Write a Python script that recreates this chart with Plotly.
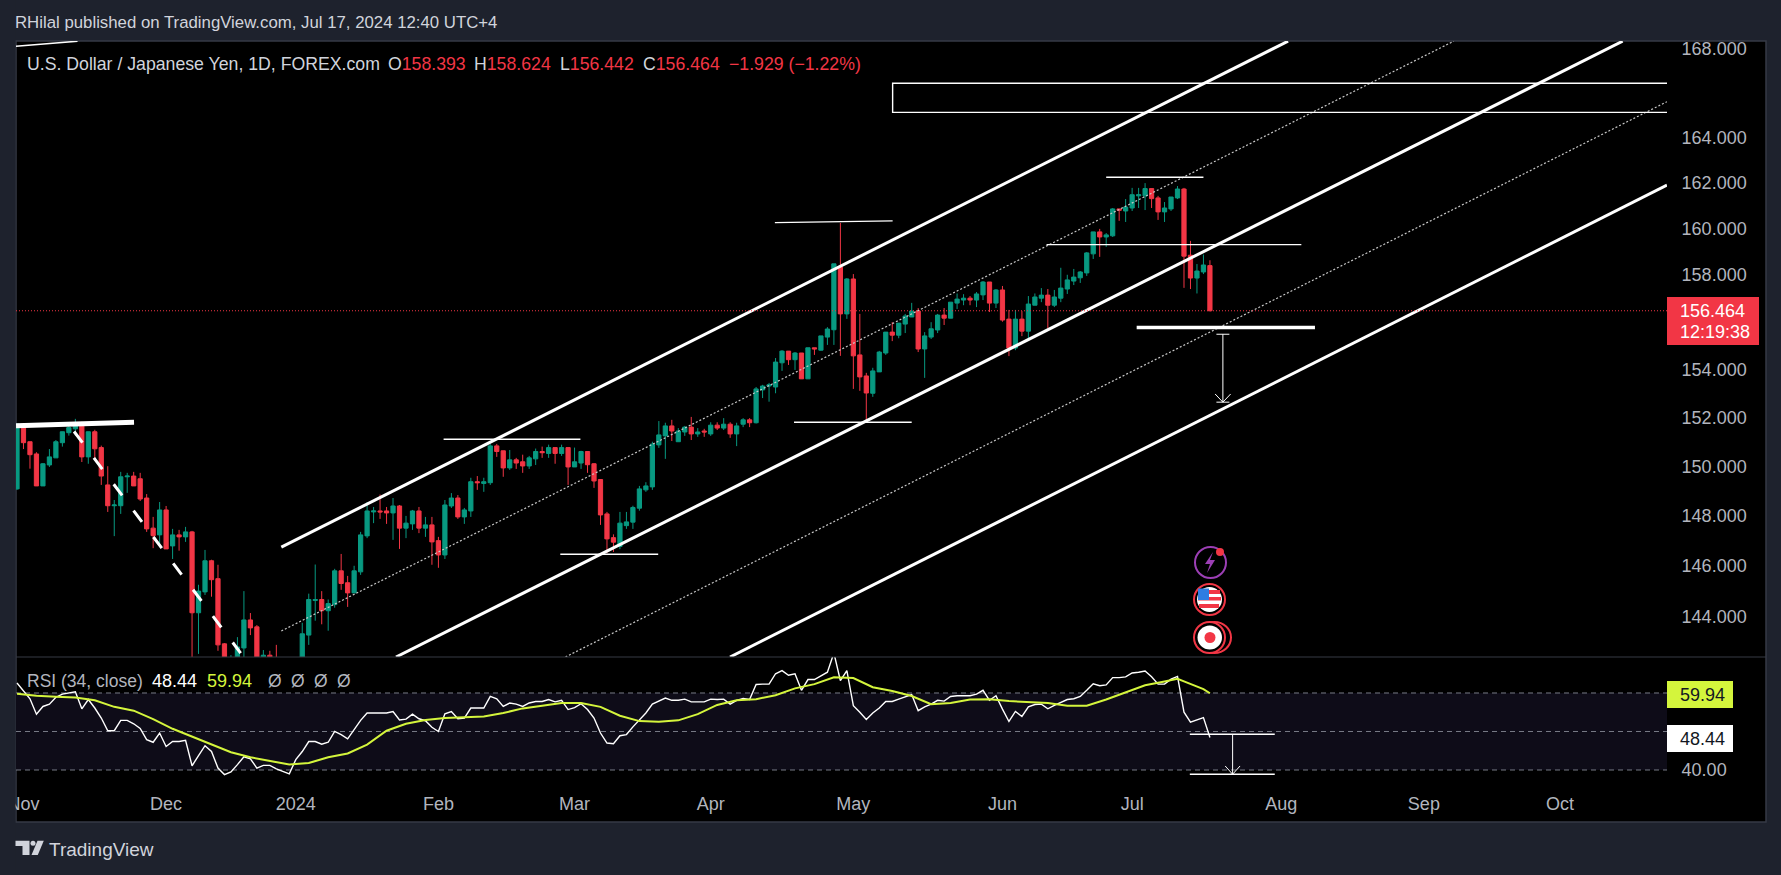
import numpy as np
import plotly.graph_objects as go
from plotly.subplots import make_subplots

W = 1781
H = 875

# daily bars, USDJPY, bar number 0 = 31 Oct 2023, weekdays only
open_px = [149.08,151.73,151.0,150.5,149.2,150.05,150.34,150.96,151.37,151.53,
           151.77,150.38,151.41,150.76,149.24,148.4,148.4,149.57,149.6,149.49,
           148.71,147.5,147.23,148.23,146.79,147.23,147.15,147.35,144.15,144.97,
           146.2,145.49,142.94,142.1,142.2,142.78,143.87,143.6,142.4,142.5,
           142.3,142.1,141.1,141.0,142.3,143.28,144.63,144.67,144.23,144.47,
           145.8,145.33,144.93,145.76,147.19,148.15,148.19,148.19,148.11,148.39,
           147.5,147.67,148.19,147.5,147.63,147.0,146.43,148.39,148.71,147.95,
           148.19,149.37,149.3,149.33,150.83,150.63,149.93,150.26,150.18,150.01,
           150.3,150.6,150.52,150.76,150.52,150.76,149.97,150.13,150.6,150.1,
           149.46,148.07,147.12,146.77,147.6,147.74,148.3,149.04,149.16,150.87,
           151.24,151.65,151.0,151.4,151.6,151.32,151.44,151.32,151.68,151.56,
           151.72,151.32,151.72,151.9,151.78,153.14,153.3,153.26,154.27,154.76,
           154.4,154.68,153.6,154.9,154.8,155.35,155.66,158.33,156.33,157.82,
           154.6,153.72,153.0,153.89,154.68,155.56,155.43,155.9,156.2,156.45,
           154.85,155.35,155.65,156.28,156.15,156.79,156.92,157.0,156.92,157.14,
           157.69,156.79,157.35,156.11,154.89,156.11,155.6,156.7,157.0,157.13,
           156.7,157.0,157.39,157.73,157.87,158.08,158.9,159.85,159.63,159.68,
           160.85,160.76,160.89,161.42,161.42,161.74,161.33,160.72,160.85,161.33,
           161.72,158.84,157.86,158.12,158.393]
high_px = [151.73,151.73,151.0,150.57,150.13,150.7,151.07,151.41,151.65,151.94,
           151.82,151.41,151.49,150.84,150.0,148.63,149.77,149.73,149.77,149.73,
           148.87,147.95,148.55,148.39,147.47,147.43,147.55,147.39,145.25,146.63,
           146.24,146.04,142.97,142.5,143.2,145.0,144.14,143.67,142.7,142.67,
           142.9,142.2,141.6,142.2,143.76,144.9,146.05,145.0,144.67,145.88,
           146.47,145.6,146.0,147.35,148.55,148.35,148.85,148.35,148.71,148.43,
           147.99,148.23,148.35,147.95,147.95,147.15,148.63,148.91,148.83,148.31,
           149.53,149.6,149.53,150.91,150.91,150.63,150.66,150.34,150.47,150.42,
           150.72,150.8,150.88,150.76,150.88,150.76,150.76,150.63,150.6,150.13,
           149.46,148.15,147.25,148.15,148.15,148.4,149.2,149.35,151.0,151.85,
           151.78,151.9,151.56,151.65,152.02,151.56,151.53,151.8,151.8,151.97,
           151.8,151.78,151.97,151.97,153.26,153.35,153.43,154.47,154.8,154.76,
           154.72,154.68,154.9,154.9,155.4,155.77,158.47,160.24,157.86,158.03,
           156.33,153.85,154.06,154.77,155.56,155.98,155.94,156.33,156.8,156.58,
           155.56,155.98,156.33,156.58,156.83,157.2,157.17,157.09,157.26,157.73,
           157.69,157.39,157.52,156.5,156.5,156.45,157.09,157.2,157.43,157.39,
           157.35,158.3,158.0,158.25,158.16,158.98,159.85,159.98,159.8,160.89,
           160.85,161.28,161.77,161.77,161.98,161.74,161.42,161.15,161.37,161.85,
           161.77,159.46,158.46,158.87,158.624]
low_px = [149.04,150.7,149.9,149.2,149.2,149.97,150.34,150.8,151.25,151.25,
          150.17,150.1,150.34,149.24,148.15,147.18,148.07,148.92,149.2,148.59,
          147.35,146.7,146.83,146.67,146.27,146.6,146.95,142.2,142.55,144.85,
          144.78,142.67,141.9,141.7,141.9,142.2,143.28,141.9,141.9,141.9,
          141.8,140.9,140.8,140.9,142.2,142.9,143.84,143.7,143.45,144.35,
          145.05,144.38,144.93,145.64,147.1,147.7,147.87,147.67,147.03,146.67,
          147.1,147.43,147.3,147.15,146.04,145.92,146.27,148.31,147.87,147.67,
          147.95,149.04,148.96,149.24,150.38,149.57,149.85,149.89,149.73,149.89,
          150.05,150.34,150.34,150.1,150.42,149.24,149.97,149.89,149.73,149.12,
          147.63,146.5,146.55,146.66,147.47,147.47,148.2,148.96,149.04,150.75,
          150.3,151.03,151.0,151.24,151.07,151.2,151.2,151.24,151.48,151.48,
          151.16,150.82,151.6,151.6,151.75,152.8,152.65,153.0,153.93,154.18,
          153.97,153.6,153.6,154.6,154.78,155.02,155.02,154.56,156.12,153.18,
          153.1,151.9,152.85,153.89,154.6,155.18,155.3,155.52,156.2,154.72,
          153.64,155.27,155.52,155.86,156.15,156.54,156.7,156.7,156.62,156.92,
          156.41,156.58,156.0,154.55,154.8,155.39,155.2,156.7,156.83,155.73,
          156.62,156.83,157.18,157.56,157.65,157.95,158.68,158.77,159.2,159.63,
          160.33,160.28,160.76,160.89,160.8,160.89,160.37,160.28,160.76,161.28,
          157.44,157.39,157.2,158.03,156.442]
close_px = [151.73,150.96,150.47,149.2,150.1,150.38,151.0,151.41,151.58,151.77,
            150.38,151.41,150.71,149.6,148.4,148.43,149.57,149.6,149.2,148.67,
            147.47,147.2,148.23,146.67,147.23,147.15,147.35,144.15,145.0,146.2,
            145.45,142.9,142.2,142.3,142.82,143.87,143.56,142.2,142.5,142.4,
            142.1,141.0,141.0,142.0,143.33,144.67,144.67,144.23,144.51,145.8,
            145.3,144.93,145.8,147.23,148.19,148.19,148.15,148.11,148.39,147.5,
            147.7,148.19,147.5,147.63,146.95,146.43,148.43,148.71,147.95,148.23,
            149.37,149.33,149.37,150.83,150.6,149.93,150.26,150.13,150.01,150.34,
            150.6,150.55,150.76,150.52,150.76,149.97,150.18,150.6,150.06,149.4,
            148.03,147.07,146.94,147.7,147.75,148.33,149.08,149.2,150.9,151.28,
            151.65,151.44,151.44,151.6,151.32,151.4,151.4,151.68,151.56,151.72,
            151.32,151.65,151.9,151.78,153.18,153.3,153.35,154.3,154.76,154.4,
            154.68,153.6,154.9,154.85,155.4,155.69,158.47,156.33,157.82,154.56,
            153.68,153.01,153.93,154.72,155.56,155.43,155.94,156.24,156.45,154.85,
            155.4,155.7,156.28,156.15,156.83,156.96,157.0,156.92,157.18,157.69,
            156.79,157.35,156.07,154.89,156.11,155.6,156.75,157.05,157.13,156.7,
            157.05,157.43,157.78,157.9,158.12,158.94,159.85,159.63,159.72,160.85,
            160.79,160.93,161.47,161.47,161.74,161.3,160.72,160.89,161.37,161.72,
            158.8,157.86,158.16,158.42,156.464]

rsi = [62.6,60.4,58.5,54.5,56.5,57.1,58.9,59.7,60.0,60.3,
       55.9,58.3,56.1,53.5,50.2,50.2,52.9,52.9,52.0,50.8,
       47.9,47.2,49.6,46.1,47.4,47.4,47.7,41.1,43.7,46.3,
       44.8,40.5,38.8,39.5,41.4,43.4,42.9,40.5,41.2,41.2,
       40.3,39.7,39.0,42.7,44.8,47.4,47.4,46.7,47.2,50.0,
       49.2,48.1,50.5,52.9,54.8,54.8,54.8,54.8,55.2,53.0,
       53.2,54.5,53.3,52.8,51.1,50.0,54.6,55.2,53.3,53.5,
       56.1,56.1,56.1,59.1,58.5,56.5,57.4,57.1,56.5,57.4,
       57.8,57.8,58.3,57.7,58.1,55.7,56.2,57.2,55.7,53.5,
       49.6,47.0,46.8,48.9,49.2,51.2,52.9,54.8,57.1,57.8,
       58.7,58.1,58.1,58.4,57.7,57.7,57.7,58.4,58.3,58.4,
       57.1,58.1,58.6,58.3,62.2,62.3,62.3,65.0,65.8,64.6,
       65.0,60.7,63.5,63.5,64.5,65.4,70.4,63.2,65.8,56.7,
       55.0,53.1,54.8,56.1,57.8,57.8,58.4,59.1,59.6,55.4,
       56.4,57.1,58.1,57.9,59.1,59.3,59.3,59.3,59.7,60.7,
       58.1,59.3,55.8,52.6,55.2,53.9,56.4,57.0,57.1,55.9,
       56.8,57.6,58.3,58.5,59.1,60.7,62.4,61.9,62.1,64.0,
       64.0,64.2,65.2,65.4,65.7,64.2,62.3,62.3,63.6,64.3,
       55.0,52.4,52.9,53.6,48.44]

# RSI moving average, read every few bars
ma_bar = [0,3,6,9,12,15,18,21,24,27,30,33,36,39,42,45,48,51,54,57,60,63,66,69,72,75,78,81,84,87,90,
          93,96,99,102,105,108,111,114,117,120,123,126,129,132,135,138,141,144,147,150,153,156,159,
          162,165,168,171,174,177,179,180,183,184]
ma_val = [59.8,59.3,59.0,58.8,58.1,56.4,55.4,53.2,50.7,48.7,46.8,44.6,43.3,42.3,41.4,41.8,43.3,44.3,46.6,50.2,52.0,
          53.0,53.5,53.7,53.9,54.8,56.0,56.7,57.4,57.4,56.4,
          54.1,52.7,52.5,52.9,54.5,56.9,58.1,58.4,59.4,61.2,62.3,64.1,63.9,61.5,60.5,59.2,57.1,57.4,58.3,58.4,57.9,57.6,57.4,
          56.7,56.7,58.3,60.2,62.0,63.0,63.7,63.0,61.0,59.94]

x_ticks = [1, 23, 43, 65, 86, 107, 129, 152, 172, 195, 217, 238]
x_labels = ["Nov", "Dec", "2024", "Feb", "Mar", "Apr", "May", "Jun", "Jul", "Aug", "Sep", "Oct"]
price_ticks = [168, 164, 162, 160, 158, 154, 152, 150, 148, 146, 144]

# drawings on the chart: (bars, prices)
channels = [
    ([40.77, 196.05], [146.74, 168.34]),
    ([58.46, 247.65], [142.43, 168.34]),
    ([109.98, 254.5], [142.43, 161.89]),
]
mid_channels = [
    ([40.77, 221.6], [143.44, 168.34]),
    ([84.59, 254.5], [142.43, 165.6]),
]
levels = [
    ([116.9, 135.06], [160.25, 160.33], 1.4),
    ([65.8, 86.9], [151.1, 151.1], 1.4),
    ([83.8, 98.9], [146.46, 146.46], 1.4),
    ([119.85, 138.0], [151.8, 151.8], 1.4),
    ([168.0, 183.0], [162.24, 162.24], 1.4),
    ([158.8, 198.1], [159.3, 159.3], 1.4),
    ([172.7, 200.2], [155.75, 155.75], 3.5),
    ([-0.15, 18.05], [151.66, 151.8], 5),
    ([-0.2, 9.33], [168.11, 168.34], 1.5),
]

X0 = 16
X1 = 1667
X2 = 1766
Y_TOP = 41
Y_SEP = 657
Y_RSI = 784
Y_BOT = 822
BG = "#1e222d"
RED = "#f23645"
GREEN = "#089981"
YELLOW = "#d4f53c"
TEXT = "#b2b5be"
FONT = "Liberation Sans"


def px(x):
    return x / W


def py(y):
    return 1 - y / H


def text(x, y, s, color=TEXT, size=17.5, anchor="left"):
    # annotations sit about 3px right of their anchor because of the default padding
    fig.add_annotation(x=px(x - 3), y=py(y), xref="paper", yref="paper", text=s, showarrow=False,
                       xanchor=anchor, yanchor="middle", font=dict(family=FONT, size=size, color=color))


def box(x0, y0, x1, y1, fill, line=None, layer="above", kind="rect", lw=0):
    fig.add_shape(type=kind, xref="paper", yref="paper", x0=px(x0), x1=px(x1), y0=py(y0), y1=py(y1),
                  fillcolor=fill, line=dict(color=line or fill, width=lw), layer=layer)


def poly(points, fill):
    path = "M " + " L ".join(f"{px(a):.5f},{py(b):.5f}" for a, b in points) + " Z"
    fig.add_shape(type="path", xref="paper", yref="paper", path=path, fillcolor=fill, line_width=0, layer="above")


def seg(xs, ys, width=1.4, color="#ffffff", dash="solid", row=1):
    fig.add_trace(go.Scatter(x=xs, y=ys, mode="lines", line=dict(color=color, width=width, dash=dash),
                             hoverinfo="skip", showlegend=False), row=row, col=1)


fig = make_subplots(rows=2, cols=1, shared_xaxes=True, vertical_spacing=0)

fig.add_trace(go.Candlestick(
    x=list(range(len(close_px))), open=open_px, high=high_px, low=low_px, close=close_px,
    increasing=dict(line=dict(color=GREEN, width=1), fillcolor=GREEN),
    decreasing=dict(line=dict(color=RED, width=1), fillcolor=RED),
    whiskerwidth=0, showlegend=False), row=1, col=1)

seg([8.8, 34.5], [151.42, 142.58], 3, dash="14px,19px")
for xs, ys in channels:
    seg(xs, ys, 3)
for xs, ys in mid_channels:
    seg(xs, ys, 1.2, "#c8c8c8", "2px,2px")
for xs, ys, w in levels:
    seg(xs, ys, w)

# rectangle zone, open on the right
seg([254.5, 135.06, 135.06, 254.5], [166.43, 166.43, 165.12, 165.12], 1.4)

# target arrow on price
seg([186.0, 186.0], [155.47, 152.63], 1)
seg([185.0, 187.0], [155.47, 155.47], 1)
seg([185.0, 187.0], [152.63, 152.63], 1)
seg([184.8, 186.0, 187.2], [152.97, 152.63, 152.97], 1)

# RSI panel
fig.add_trace(go.Scatter(x=list(range(len(rsi))), y=rsi, mode="lines", line=dict(color="#ffffff", width=1.4),
                         hoverinfo="skip", showlegend=False), row=2, col=1)
fig.add_trace(go.Scatter(x=ma_bar, y=ma_val, mode="lines", line=dict(color=YELLOW, width=2),
                         hoverinfo="skip", showlegend=False), row=2, col=1)
seg([180.9, 194.0], [49.27, 49.27], 1.4, row=2)
seg([180.9, 194.0], [38.9, 38.9], 1.4, row=2)
seg([187.5, 187.5], [49.27, 38.9], 1, row=2)
seg([186.35, 187.5, 188.65], [41.04, 38.9, 41.04], 1, row=2)

x_range = [-0.154, 254.5]
fig.add_shape(type="rect", x0=x_range[0], x1=x_range[1], y0=40, y1=60, xref="x2", yref="y2",
              fillcolor="#0e0c18", line_width=0, layer="below")
for lev in [60, 50, 40]:
    fig.add_shape(type="line", x0=x_range[0], x1=x_range[1], y0=lev, y1=lev, xref="x2", yref="y2",
                  line=dict(color="#787b86", width=1, dash="5px,4px"), layer="below")
fig.add_shape(type="line", x0=x_range[0], x1=x_range[1], y0=close_px[-1], y1=close_px[-1], xref="x", yref="y",
              line=dict(color=RED, width=1, dash="1px,2px"), layer="above")

# frame
box(X0, Y_TOP, X2, Y_BOT, "#000000", "#363a45", "below", lw=1.5)
box(0, 0, X0 - 0.5, H, BG)
fig.add_shape(type="line", xref="paper", yref="paper", x0=px(X0), x1=px(X2), y0=py(Y_SEP), y1=py(Y_SEP),
              line=dict(color="#363a45", width=1.2), layer="above")

# price labels
box(X1, 297, 1759, 345, RED)
box(X1, 681, 1733, 708, YELLOW)
box(X1, 725, 1733, 752, "#ffffff")
text(1681, 311, "156.464", "#ffffff", 18)
text(1681, 332, "12:19:38", "#ffffff", 18)
text(1681, 695, "59.94", "#131722", 18)
text(1681, 739, "48.44", "#131722", 18)

# header and legends
text(15.5, 23, "RHilal published on TradingView.com, Jul 17, 2024 12:40 UTC+4", "#d1d4dc", 16.8)
text(27.5, 64, "U.S. Dollar / Japanese Yen, 1D, FOREX.com", "#d1d4dc", 17.7)
ohlc_x = [389, 475, 561, 644]
ohlc_tag = ["O", "H", "L", "C"]
ohlc_val = ["158.393", "158.624", "156.442", "156.464"]
for a, tag, val in zip(ohlc_x, ohlc_tag, ohlc_val):
    text(a, 64, f'<span style="color:#d1d4dc">{tag}</span>{val}', RED, 17.7)
text(730, 64, "\u22121.929 (\u22121.22%)", RED, 17.7)
text(27.5, 681, "RSI (34, close)", TEXT)
text(152.5, 681, "48.44", "#ffffff", 18)
text(208, 681, "59.94", YELLOW, 18)
for a in [268.6, 291.6, 314.6, 337.5]:
    text(a, 681, "\u00d8", TEXT)

# footer logo
poly([(15.5, 840.7), (29.5, 840.7), (29.5, 855), (22.5, 855), (22.5, 846), (15.5, 846)], "#d1d4dc")
box(30.5, 840.7, 35.5, 845.7, "#d1d4dc", kind="circle")
poly([(37.5, 840.7), (43.8, 840.7), (37.8, 855), (31.5, 855)], "#d1d4dc")
text(50, 849, "TradingView", "#d1d4dc", 19)

# event icons
box(1195, 547, 1226, 578, "#000000", "#9c3fb5", kind="circle", lw=2)
poly([(1213, 552), (1205, 564), (1210, 564), (1207, 573), (1215, 560), (1210, 560)], "#9c3fb5")
box(1216, 548, 1224, 556, RED, kind="circle")
box(1194, 584, 1225, 615, "#000000", RED, kind="circle", lw=2)
box(1197, 587, 1222, 612, "#ffffff", kind="circle")
box(1199, 590, 1220, 594, RED)
box(1198, 597, 1221, 600.5, RED)
box(1199, 604, 1219, 608, RED)
box(1198, 588.5, 1209, 600, "#2f7de1")
box(1198, 622, 1231, 653, "#000000", RED, kind="circle", lw=2)
box(1194, 622, 1225, 653, "#000000", RED, kind="circle", lw=2)
box(1197.5, 625.5, 1222, 649.5, "#ffffff", kind="circle")
box(1204.5, 632, 1215.5, 643, RED, kind="circle")

fig.update_layout(
    width=W, height=H, margin=dict(l=0, r=0, t=0, b=0),
    paper_bgcolor=BG, plot_bgcolor="#000000", showlegend=False, boxgap=0.35, boxgroupgap=0,
    font=dict(family=FONT, size=18, color=TEXT),
    xaxis=dict(domain=[px(X0), px(X1)], range=x_range, rangeslider_visible=False, showgrid=False, zeroline=False,
               automargin=False),
    xaxis2=dict(domain=[px(X0), px(X1)], range=x_range, showgrid=False, zeroline=False, tickmode="array",
                tickvals=x_ticks, ticktext=x_labels, ticks="outside", ticklen=3, tickcolor="#000000",
                automargin=False),
    yaxis=dict(domain=[py(Y_SEP), py(Y_TOP)], type="log", range=[np.log10(142.43), np.log10(168.35)], side="right",
               tickmode="array", tickvals=price_ticks, ticktext=[f"{p:.3f}" for p in price_ticks],
               showgrid=False, zeroline=False, ticks="outside", ticklen=10, tickcolor="#000000", automargin=False),
    yaxis2=dict(domain=[py(Y_RSI), py(Y_SEP)], range=[36.36, 69.35], side="right", tickmode="array",
                tickvals=[40], ticktext=["40.00"], showgrid=False, zeroline=False,
                ticks="outside", ticklen=10, tickcolor="#000000", automargin=False),
)

fig.write_html("out.html", config={"displayModeBar": False}, post_script="document.body.style.margin='0';")
